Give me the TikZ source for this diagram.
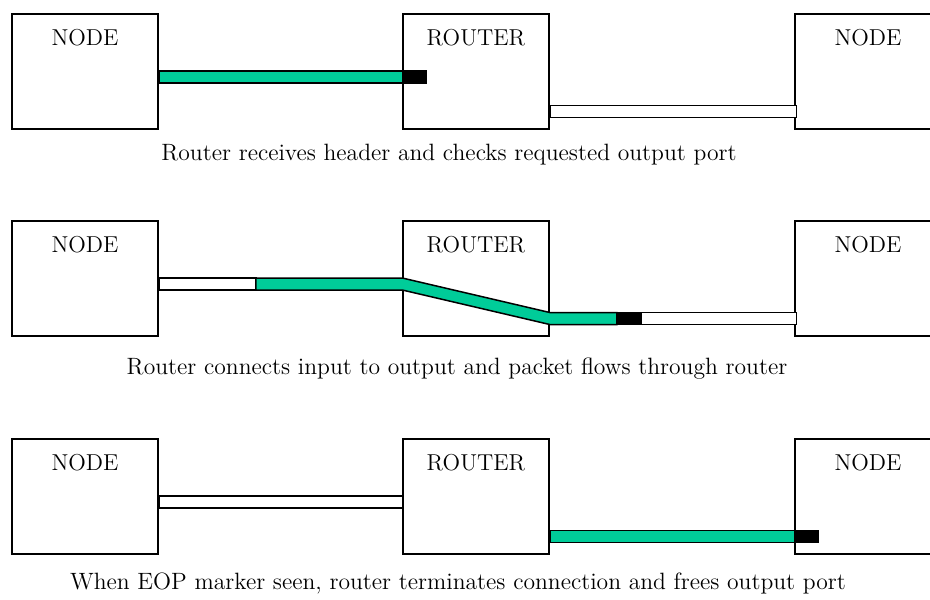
\documentclass[tikz,border=0pt]{standalone}
\usetikzlibrary{calc}
\definecolor{flitgreen}{RGB}{0,204,153}
\tikzset{
  unit/.style={draw, line width=0.75pt, minimum width=73pt, minimum height=57.5pt,
    label={[yshift=16.75pt, font=\fontsize{11.5}{13}\selectfont]center:#1}},
  wire/.style={draw, line width=0.75pt, fill=white},
  flit/.style={wire, fill=flitgreen},
  tail/.style={wire, fill=black},
  caption/.style={font=\fontsize{11.8}{14}\selectfont}
}
\begin{document}
\begin{tikzpicture}[x=0.5pt, y=-0.5pt]
  \useasboundingbox (0,0) rectangle (930,599);
  \foreach \i/\c in {1/71.5, 2/278.5, 3/496.5} {
    \node[unit=NODE] (node\i) at (85,\c) {};
    \node[unit=ROUTER] (router\i) at (476,\c) {};
    \node[unit=NODE] (dest\i) at (868,\c) {};
  }

  \draw[flit] ($(node1.east)+(0,-0.5)$) rectangle ($(router1.west)+(0,11.5)$);
  \draw[tail] ($(router1.west)+(0,-0.5)$) rectangle ($(router1.west)+(24,11.5)$);
  \draw[wire] ($(router1.east)+(0,34)$) rectangle ($(dest1.west)+(2,46)$);
  \node[caption] (cap1) at (449,155) {Router receives header and checks requested output port};

  \draw[wire] ($(node2.east)+(0,-0.5)$) rectangle ($(node2.east)+(97,11.5)$);
  \draw[flit] ($(node2.east)+(97,-0.5)$) -- ($(router2.west)+(0,-0.5)$)
    -- ($(router2.east)+(0,34)$) -- ($(router2.east)+(67,34)$)
    -- ($(router2.east)+(67,46)$) -- ($(router2.east)+(0,46)$)
    -- ($(router2.west)+(0,11.5)$) -- ($(node2.east)+(97,11.5)$) -- cycle;
  \draw[tail] ($(router2.east)+(67,34)$) rectangle ($(router2.east)+(91,46)$);
  \draw[wire] ($(router2.east)+(91,34)$) rectangle ($(dest2.west)+(2,46)$);
  \node[caption] (cap2) at (457,369) {Router connects input to output and packet flows through router};

  \draw[wire] ($(node3.east)+(0,-0.5)$) rectangle ($(router3.west)+(0,11.5)$);
  \draw[flit] ($(router3.east)+(0,34)$) rectangle ($(dest3.west)+(0,46)$);
  \draw[tail] ($(dest3.west)+(0,34)$) rectangle ($(dest3.west)+(24,46)$);
  \node[caption] (cap3) at (458,583) {When EOP marker seen, router terminates connection and frees output port};
\end{tikzpicture}
\end{document}
